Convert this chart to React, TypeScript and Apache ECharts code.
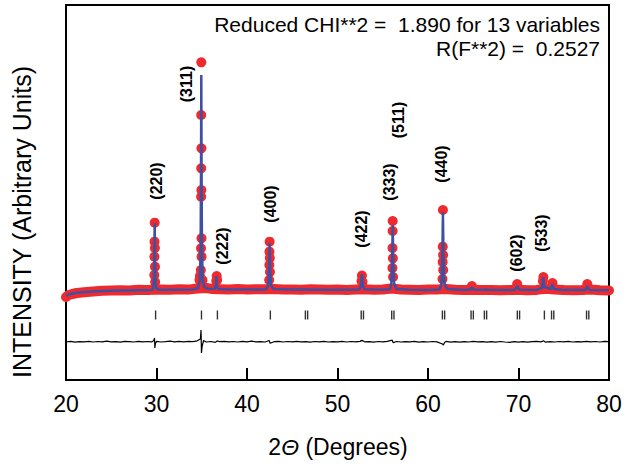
import React, { useEffect, useRef } from "react";
import * as echarts from "echarts";

// 2-theta axis
const xTicks = [20, 30, 40, 50, 60, 70, 80];

// Observed pattern: dense background band (2θ, intensity)
const obsBand: [number, number][] = [
  [20, 83], [20.3, 85], [20.7, 86], [21.2, 87], [22, 87.8], [23, 88.5], [24, 89.2], [25, 89.4],
  [26, 89.8], [27, 89.6], [28, 90.2], [29, 90], [30.5, 90.6], [31.5, 90.2], [32.5, 90.8],
  [33.5, 90.4], [34.5, 91.5], [35.5, 92], [36.2, 91], [37, 90.8], [38, 90.4], [39, 90.9],
  [40, 90.5], [41, 90.7], [42, 90.8], [43, 91], [44, 90.4], [45, 90.6], [46, 90.3], [47, 90.8],
  [48, 90.4], [49, 90.2], [50, 90.6], [51, 90.1], [52, 90.4], [53, 90.8], [54, 90.2], [55, 90.5],
  [56, 91.5], [57, 90.6], [58, 90.3], [59, 90.1], [60, 90.4], [61, 90.6], [62, 91], [63, 90.2],
  [64, 90], [65, 90.3], [66, 89.9], [67, 90.1], [68, 89.8], [69, 90], [70, 90.3], [71, 89.8],
  [72, 90.1], [73, 91.2], [74, 90.6], [75, 89.9], [76, 89.7], [77, 89.9], [78, 90.4], [79, 89.8],
  [80, 89.6],
];

// Observed pattern: individual measured points on the reflections
const obsPeaks: [number, number][] = [
  // (220)
  [29.8, 157.3], [29.78, 138.3], [29.82, 132], [29.77, 123.3], [29.83, 113.3], [29.76, 105], [29.85, 98],
  // (311)
  [34.95, 317.7], [34.94, 265], [34.96, 231.7], [34.94, 211.7], [34.96, 190], [34.93, 183.3],
  [34.97, 141.7], [34.92, 131.7], [34.98, 123.3], [34.9, 110], [34.8, 104], [34.75, 100], [35.08, 100],
  // (222)
  [36.65, 104], [36.6, 99], [36.7, 100],
  // (400)
  [42.5, 138.3], [42.48, 128.3], [42.52, 122], [42.47, 115], [42.54, 108], [42.45, 100],
  // (422)
  [52.7, 104.5], [52.65, 99], [52.76, 98],
  // (333)(511)
  [56.1, 159], [56.09, 149], [56.08, 132], [56.12, 121.7], [56.07, 112], [56.14, 103],
  // (440)
  [61.65, 170], [61.63, 133.3], [61.67, 125], [61.62, 118], [61.68, 110], [61.6, 101],
  // weak reflections
  [64.85, 94], [69.85, 96], [72.75, 103], [72.7, 99], [73.75, 97], [77.6, 96],
];

// Calculated profile
const calc: [number, number][] = [
  [20.0, 84], [20.3, 85.5], [20.7, 86.5], [21.2, 87.3], [22, 88], [23, 88.6], [24, 89], [25, 89.3],
  [26.5, 89.6], [28, 89.8], [29.4, 90],
  [29.6, 90.6], [29.7, 96], [29.75, 118], [29.8, 157], [29.85, 118], [29.9, 96], [30.0, 91], [30.3, 90.3],
  [32, 90.2], [34, 90.5], [34.6, 92],
  [34.8, 100], [34.88, 135], [34.92, 210], [34.95, 305], [34.98, 210], [35.02, 135], [35.1, 100],
  [35.3, 92.5], [35.8, 91], [36.4, 91.2],
  [36.55, 94], [36.62, 104], [36.68, 94], [36.8, 91],
  [38, 90.5], [40, 90.4], [42.1, 90.6],
  [42.35, 95], [42.44, 112], [42.5, 137], [42.56, 112], [42.65, 95], [42.9, 91],
  [45, 90.4], [46.5, 90.6], [48, 90.3], [50, 90.2], [52.4, 90.5],
  [52.6, 94], [52.7, 106], [52.8, 94], [53, 90.8],
  [55, 90.3], [55.8, 90.8],
  [55.95, 97], [56.04, 120], [56.1, 155], [56.16, 120], [56.25, 97], [56.5, 91],
  [58, 90.2], [60, 90.1], [61.3, 90.6],
  [61.5, 97], [61.59, 125], [61.65, 168], [61.71, 125], [61.8, 97], [62.1, 91],
  [64, 90], [64.7, 90.4], [64.85, 93], [65.0, 90.4], [66.3, 90.2], [66.4, 91.2], [66.5, 90.2],
  [68, 89.9], [69.6, 90.1], [69.85, 94], [70.1, 90.2], [72, 90.1], [72.6, 92], [72.72, 103],
  [72.85, 93], [73.6, 91], [73.75, 96], [73.9, 91], [75, 90], [77.4, 90], [77.6, 94], [77.8, 90],
  [80, 89.7],
];

// Bragg reflection positions
const reflections = [
  29.9, 34.97, 36.73, 42.58, 46.45, 46.7, 52.62, 52.87, 55.99, 56.24, 61.59, 61.84,
  64.76, 65.01, 66.23, 66.48, 69.87, 70.12, 72.86, 73.65, 73.9, 77.52, 77.77,
];
const reflectionLevel = 65;

// Difference curve (obs - calc, offset)
const diff: [number, number][] = [
  [20, 38.0], [20.5, 38.6], [21, 37.8], [21.5, 38.4], [22, 38.1], [22.5, 38.7], [23, 38.0], [23.5, 38.5],
  [24, 38.2], [24.5, 38.8], [25, 38.1], [25.5, 38.4], [26, 37.9], [26.5, 38.6], [27, 38.3], [27.5, 38.0],
  [28, 38.7], [28.5, 38.2], [29, 38.5], [29.5, 38.1], [29.7, 39.5], [29.78, 42], [29.82, 32], [29.88, 36.5],
  [30, 38.6], [30.5, 38.0], [31, 38.4], [31.5, 38.9], [32, 38.2], [32.5, 38.6], [33, 38.1], [33.5, 38.7],
  [34, 38.3], [34.5, 39.2], [34.85, 41], [34.92, 50], [34.97, 27], [35.05, 34], [35.2, 39.5], [35.5, 38.0],
  [36, 38.5], [36.5, 37.6], [36.7, 39], [37, 38.3], [37.5, 38.7], [38, 38.1], [38.5, 38.5], [39, 38.0],
  [39.5, 38.6], [40, 38.2], [40.5, 38.8], [41, 38.1], [41.5, 38.4], [42, 38.0], [42.45, 39.5], [42.55, 36.8],
  [43, 38.3], [43.5, 38.6], [44, 38.0], [44.5, 38.5], [45, 38.2], [45.5, 38.7], [46, 38.1], [46.5, 38.3],
  [47, 37.9], [47.5, 38.5], [48, 38.1], [48.5, 38.6], [49, 38.0], [49.5, 38.4], [50, 38.2], [50.5, 38.7],
  [51, 38.0], [51.5, 38.5], [52, 38.1], [52.5, 38.6], [52.7, 39.6], [53, 38.2], [53.5, 38.4], [54, 37.9],
  [54.5, 38.5], [55, 38.1], [55.5, 38.6], [56.05, 39.8], [56.15, 37.2], [56.5, 38.5], [57, 38.0], [57.5, 38.4],
  [58, 38.1], [58.5, 38.6], [59, 37.9], [59.5, 38.3], [60, 38.0], [60.5, 38.5], [61, 38.1], [61.6, 36],
  [61.7, 35], [61.85, 37.8], [62, 38.6], [62.5, 37.9], [63, 38.3], [63.5, 37.8], [64, 38.4], [64.5, 38.0],
  [65, 38.6], [65.5, 38.1], [66, 38.3], [66.5, 37.8], [67, 38.4], [67.5, 37.9], [68, 38.5], [68.5, 38.0],
  [69, 37.7], [69.5, 38.3], [70, 37.9], [70.5, 38.4], [71, 37.8], [71.5, 38.3], [72, 38.6], [72.5, 38.1],
  [72.75, 39.2], [73, 37.8], [73.5, 38.4], [74, 38.0], [74.5, 38.5], [75, 38.1], [75.5, 38.6], [76, 38.0],
  [76.5, 38.4], [77, 38.1], [77.5, 38.7], [78, 38.2], [78.5, 38.5], [79, 38.0], [79.5, 38.6], [80, 38.3],
];

// Miller index labels (text, pixel x, pixel y)
const hklLabels: [string, number, number][] = [
  ["(220)", 156, 181],
  ["(311)", 186, 84],
  ["(222)", 222, 246],
  ["(400)", 270, 204],
  ["(422)", 361, 229],
  ["(333)", 389, 182],
  ["(511)", 398, 120],
  ["(440)", 441, 164],
  ["(602)", 516, 253],
  ["(533)", 541, 233],
];

const statLines = ["Reduced CHI**2 =  1.890 for 13 variables", "R(F**2) =  0.2527"];

const RED = "#ee2a2e";
const BLUE = "#3f4fa2";
const FONT = "Liberation Sans, Arial, sans-serif";

export default function App() {
  const ref = useRef<HTMLDivElement>(null);
  useEffect(() => {
    if (!ref.current) return;
    const chart = echarts.init(ref.current, null, { renderer: "svg" });
    const graphics: any[] = [];
    hklLabels.forEach(([t, x, y]) => {
      graphics.push({
        type: "text",
        x,
        y,
        rotation: Math.PI / 2,
        style: {
          text: t,
          font: `bold 16px ${FONT}`,
          fill: "#000",
          align: "center",
          verticalAlign: "middle",
        },
        z: 10,
      });
    });
    statLines.forEach((t, i) => {
      graphics.push({
        type: "text",
        x: 600,
        y: 24 + i * 24,
        style: {
          text: t,
          font: `21px ${FONT}`,
          fill: "#000",
          align: "right",
          verticalAlign: "middle",
        },
        z: 10,
      });
    });
    graphics.push({
      type: "text",
      x: 22,
      y: 222,
      rotation: Math.PI / 2,
      style: {
        text: "INTENSITY (Arbitrary Units)",
        font: `25px ${FONT}`,
        fill: "#000",
        align: "center",
        verticalAlign: "middle",
      },
    });
    graphics.push({
      type: "text",
      x: 338,
      y: 447,
      style: {
        text: "{a|2}{b|Θ}{a| (Degrees)}",
        align: "center",
        verticalAlign: "middle",
        rich: {
          a: { fontFamily: FONT, fontSize: 23, fill: "#000" },
          b: { fontFamily: FONT, fontSize: 23, fontStyle: "italic", fill: "#000" },
        },
      },
    });

    chart.setOption({
      animation: false,
      backgroundColor: "#fff",
      grid: {
        left: 66,
        right: 30,
        top: 5,
        bottom: 86,
        show: true,
        borderColor: "#000",
        borderWidth: 2,
      },
      xAxis: {
        type: "value",
        min: xTicks[0],
        max: xTicks[xTicks.length - 1],
        interval: 10,
        axisLine: { show: true, onZero: false, lineStyle: { color: "#000", width: 2 } },
        axisTick: { show: true, inside: true, length: 12, lineStyle: { color: "#000", width: 2 } },
        axisLabel: { color: "#000", fontSize: 23, fontFamily: FONT, margin: 12 },
        splitLine: { show: false },
      },
      yAxis: {
        type: "value",
        min: 0,
        max: 375,
        axisLine: { show: true, lineStyle: { color: "#000", width: 2 } },
        axisTick: { show: false },
        axisLabel: { show: false },
        splitLine: { show: false },
      },
      graphic: graphics,
      series: [
        {
          type: "line",
          data: obsBand,
          showSymbol: false,
          clip: false,
          lineStyle: { color: RED, width: 10, cap: "round", join: "round" },
          z: 2,
        },
        {
          type: "scatter",
          data: obsPeaks,
          symbol: "circle",
          symbolSize: 10,
          itemStyle: { color: RED, opacity: 1 },
          z: 3,
        },
        {
          type: "line",
          data: calc,
          showSymbol: false,
          lineStyle: { color: BLUE, width: 2.5 },
          z: 4,
        },
        {
          type: "scatter",
          data: reflections.map((x) => [x, reflectionLevel]),
          symbol: "rect",
          symbolSize: [1.4, 9],
          itemStyle: { color: "#000" },
          z: 4,
        },
        {
          type: "line",
          data: diff,
          showSymbol: false,
          lineStyle: { color: "#000", width: 1.2 },
          z: 4,
        },
      ],
    });
    return () => chart.dispose();
  }, []);
  return (
    <div
      ref={ref}
      style={{ position: "fixed", left: 0, top: 0, width: 639, height: 466 }}
    />
  );
}
